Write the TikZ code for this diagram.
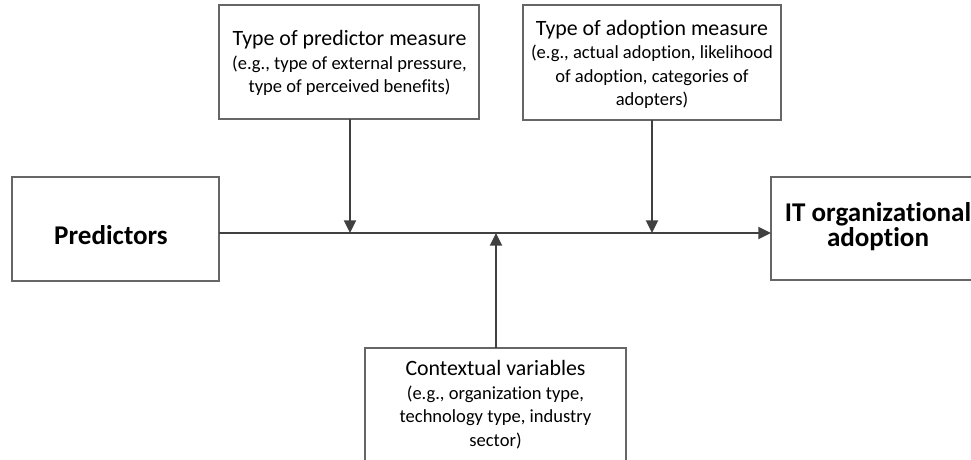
\documentclass[tikz,border=0pt]{standalone}
\usepackage{fontspec}
\setmainfont{Carlito}[Ligatures=NoCommon]
\usetikzlibrary{arrows.meta}
\definecolor{boxline}{HTML}{666666}
\definecolor{linkline}{HTML}{404040}
\newcommand{\headsize}{\fontsize{16.4}{17.6}\selectfont}
\newcommand{\notesize}{\fontsize{13.9}{17.6}\selectfont}
\tikzset{
  px/.style={x=0.75pt,y=-0.75pt},
  boxframe/.style={draw=boxline,line width=0.9pt,fill=white},
  link/.style={draw=linkline,line width=1.4pt,
    -{Triangle[length=9.5pt,width=9pt]}},
  boxtext/.style={align=center,text=black,inner sep=0pt,font=\notesize},
  boldtext/.style={align=center,text=black,inner sep=0pt,
    font=\fontsize{20.3}{18.8}\selectfont\bfseries},
}
\begin{document}
\begin{tikzpicture}[px]
\useasboundingbox (0,0) rectangle (971,460);
\clip (0,0) rectangle (971,460);

% boxes
\draw[boxframe] (12,177) rectangle (219,281);
\draw[boxframe] (771,177) rectangle (986,280);
\draw[boxframe] (219,5) rectangle (479,119);
\draw[boxframe] (523,5) rectangle (781,120);
\draw[boxframe] (365,348) rectangle (626,470);

% texts
\node[boldtext] (pred) at (111,235) {Predictors};
\node[boldtext] (adopt) at (878,227) {IT organizational\\adoption};

\node[boxtext] (pm) at (349.5,63) {\headsize Type of predictor measure\\
  (e.g., type of external pressure,\\type of perceived benefits)};
\node[boxtext] (am) at (652,64.5) {\headsize Type of adoption measure\\
  (e.g., actual adoption, likelihood\\of adoption, categories of\\adopters)};
\node[boxtext] (cv) at (495.5,404.5) {\headsize Contextual variables\\
  (e.g., organization type,\\technology type, industry\\sector)};

% anchor points on the frames and the main line
\coordinate (predE) at (219,233);
\coordinate (adoptW) at (771,233);
\coordinate (pmS) at (350,119);
\coordinate (amS) at (652,120);
\coordinate (cvN) at (496,348);
\coordinate (hitA) at (350,233);
\coordinate (hitB) at (652,233);
\coordinate (hitC) at (496,233);

% connectors
\draw[link] (predE) -- (adoptW);
\draw[link] (pmS) -- (hitA);
\draw[link] (amS) -- (hitB);
\draw[link] (cvN) -- (hitC);
\end{tikzpicture}
\end{document}
